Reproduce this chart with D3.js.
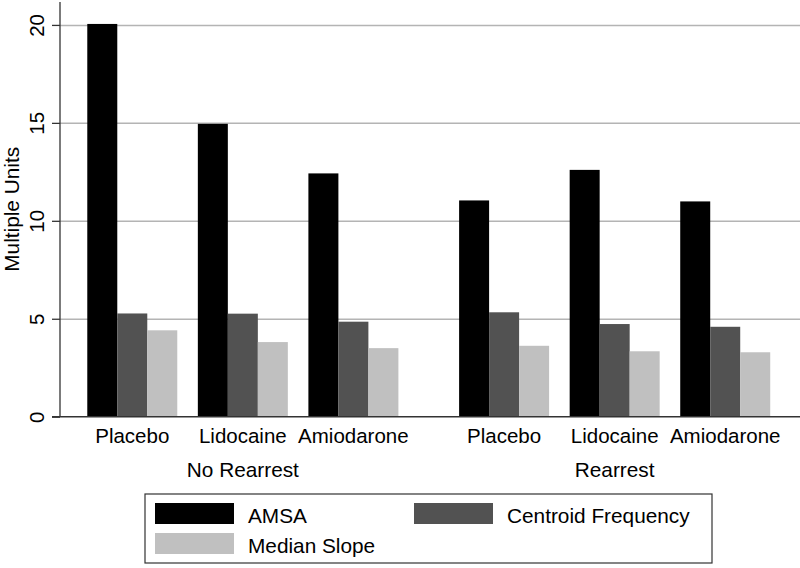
<!DOCTYPE html>
<html>
<head>
<meta charset="utf-8">
<script src="https://cdn.jsdelivr.net/npm/d3@7"></script>
<style>
  body { margin: 0; background: #fff; }
  svg { display: block; font-family: "Liberation Sans", Arial, Helvetica, sans-serif; }
</style>
</head>
<body>
<div id="chart"></div>
<script>
// Daten
const groups = ["No Rearrest", "Rearrest"];
const drugs = ["Placebo", "Lidocaine", "Amiodarone"];
const series = ["AMSA", "Centroid Frequency", "Median Slope"];
const amsa = [20.05, 14.95, 12.42, 11.04, 12.6, 10.99];
const centroid = [5.27, 5.26, 4.85, 5.33, 4.73, 4.59];
const slope = [4.41, 3.81, 3.5, 3.62, 3.34, 3.29];
const yTicks = [0, 5, 10, 15, 20];

const colors = ["#000000", "#525252", "#c0c0c0"];
const values = [amsa, centroid, slope];

const width = 800, height = 568;
const svg = d3.select("#chart").append("svg")
    .attr("width", width)
    .attr("height", height);

const axisX = 60, plotRight = 800;
const y = d3.scaleLinear().domain([0, 21.17]).range([416.7, 2]);

const xGroup = d3.scaleBand().domain(groups).range([77, 780.5]).paddingInner(0.108);
const xDrug = d3.scaleBand().domain(drugs).range([0, xGroup.bandwidth()])
    .paddingInner(0.186).paddingOuter(0.093);
const xSeries = d3.scaleBand().domain(series).range([0, xDrug.bandwidth()]);

// Gitterlinien
svg.append("g")
    .attr("transform", `translate(${axisX},0)`)
    .call(d3.axisLeft(y).tickValues(yTicks.slice(1)).tickSize(-(plotRight - axisX)).tickFormat(""))
    .call(g => g.select(".domain").remove())
    .call(g => g.selectAll("line").attr("stroke", "#b4b4b4").attr("stroke-width", 1.5));

// Balken
const rows = [];
groups.forEach((grp, gi) => {
    drugs.forEach((drug, di) => {
        series.forEach((s, si) => {
            rows.push({ grp, drug, s, si, v: values[si][gi * drugs.length + di] });
        });
    });
});

svg.append("g").selectAll("rect")
    .data(rows)
    .join("rect")
    .attr("x", d => xGroup(d.grp) + xDrug(d.drug) + xSeries(d.s))
    .attr("y", d => y(d.v))
    .attr("width", xSeries.bandwidth())
    .attr("height", d => y(0) - y(d.v))
    .attr("fill", d => colors[d.si]);

// Y-Achse
const yAxis = svg.append("g")
    .attr("transform", `translate(${axisX},0)`)
    .call(d3.axisLeft(y).tickValues(yTicks).tickSize(8).tickPadding(0));
yAxis.select(".domain").remove();
yAxis.selectAll("line").attr("stroke", "#333").attr("stroke-width", 1.3);
yAxis.selectAll("text")
    .attr("x", 0).attr("dy", 0)
    .attr("transform", "translate(-16,0) rotate(-90)")
    .attr("text-anchor", "middle")
    .attr("font-size", 20.5)
    .attr("font-family", "Liberation Sans, Arial, sans-serif")
    .attr("fill", "#000");

svg.append("line")
    .attr("x1", axisX).attr("x2", axisX)
    .attr("y1", y(0)).attr("y2", 2)
    .attr("stroke", "#333").attr("stroke-width", 1.3);
svg.append("line")
    .attr("x1", axisX - 8).attr("x2", plotRight)
    .attr("y1", y(0)).attr("y2", y(0))
    .attr("stroke", "#333").attr("stroke-width", 1.5);

svg.append("text")
    .attr("transform", `translate(19,${y(0) - (y(0) - 2) / 2}) rotate(-90)`)
    .attr("text-anchor", "middle")
    .attr("font-size", 20.8)
    .text("Multiple Units");

// Kategorien und Gruppen
groups.forEach(grp => {
    drugs.forEach(drug => {
        svg.append("text")
            .attr("x", xGroup(grp) + xDrug(drug) + xDrug.bandwidth() / 2)
            .attr("y", 442.7)
            .attr("text-anchor", "middle")
            .attr("font-size", 20.5)
            .text(drug);
    });
    svg.append("text")
        .attr("x", xGroup(grp) + xGroup.bandwidth() / 2)
        .attr("y", 476.7)
        .attr("text-anchor", "middle")
        .attr("font-size", 20.8)
        .text(grp);
});

// Legende
const legend = svg.append("g");
legend.append("rect")
    .attr("x", 145).attr("y", 494)
    .attr("width", 567).attr("height", 69)
    .attr("fill", "#fff").attr("stroke", "#333").attr("stroke-width", 1.2);

const legPos = [[155, 503], [414, 503], [155, 533]];
series.forEach((s, i) => {
    const [lx, ly] = legPos[i];
    legend.append("rect")
        .attr("x", lx).attr("y", ly)
        .attr("width", 79).attr("height", 21)
        .attr("fill", colors[i]);
    legend.append("text")
        .attr("x", lx + 93).attr("y", ly + 20)
        .attr("font-size", 20.8)
        .text(s);
});
</script>
</body>
</html>
